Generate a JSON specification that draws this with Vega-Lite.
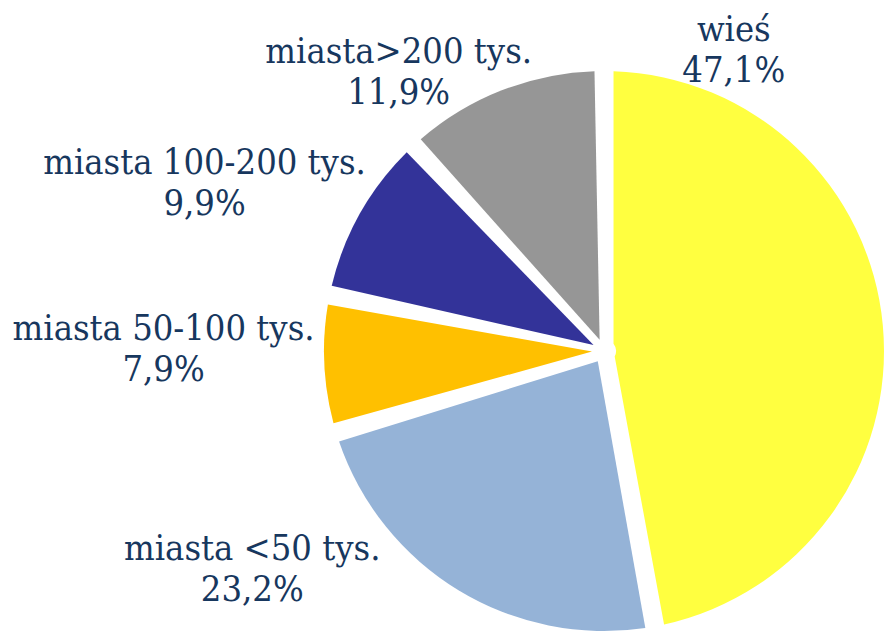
{
  "$schema": "https://vega.github.io/schema/vega-lite/v6.json",
  "width": 560,
  "height": 560,
  "autosize": "none",
  "padding": {"left": 324, "top": 71, "right": 1, "bottom": 4},
  "background": "white",
  "config": {"view": {"stroke": null}},
  "data": {"values": [
    {"kategoria": "wieś", "udzial": 47.1, "etykieta": "wieś\n47,1%", "kolejnosc": 1},
    {"kategoria": "miasta <50 tys.", "udzial": 23.2, "etykieta": "miasta <50 tys.\n23,2%", "kolejnosc": 2},
    {"kategoria": "miasta 50-100 tys.", "udzial": 7.9, "etykieta": "miasta 50-100 tys.\n7,9%", "kolejnosc": 3},
    {"kategoria": "miasta 100-200 tys.", "udzial": 9.9, "etykieta": "miasta 100-200 tys.\n9,9%", "kolejnosc": 4},
    {"kategoria": "miasta>200 tys.", "udzial": 11.9, "etykieta": "miasta>200 tys.\n11,9%", "kolejnosc": 5}
  ]},
  "layer": [
    {
      "mark": {"type": "arc", "padAngle": 0.068, "radius": 280, "radius2": 12},
      "encoding": {
        "theta": {"field": "udzial", "type": "quantitative", "stack": true},
        "order": {"field": "kolejnosc", "type": "quantitative"},
        "color": {
          "field": "kategoria",
          "type": "nominal",
          "scale": {
            "domain": ["wieś", "miasta <50 tys.", "miasta 50-100 tys.", "miasta 100-200 tys.", "miasta>200 tys."],
            "range": ["#FFFF40", "#95B3D7", "#FFC000", "#333399", "#969696"]
          },
          "legend": null
        }
      }
    },
    {
      "mark": {
        "type": "text",
        "lineBreak": "\n",
        "font": "DejaVu Serif Condensed",
        "fontSize": 36,
        "color": "#17375E",
        "align": "center",
        "baseline": "middle",
        "lineHeight": 41
      },
      "encoding": {
        "theta": {
          "field": "udzial",
          "type": "quantitative",
          "stack": true,
          "scale": {"domain": [23.55, 58.7, 74.25, 83.15, 94.05], "range": [0.384, 4.2004, 4.763, 5.1522, 5.6811]}
        },
        "radius": {
          "field": "udzial",
          "type": "quantitative",
          "scale": {"type": "linear", "zero": false, "domain": [7.9, 9.9, 11.9, 23.2, 47.1], "range": [441, 441.5, 362.5, 403.5, 346.5]}
        },
        "order": {"field": "kolejnosc", "type": "quantitative"},
        "text": {"field": "etykieta", "type": "nominal"}
      }
    }
  ],
  "resolve": {"scale": {"theta": "independent", "radius": "independent"}}
}
